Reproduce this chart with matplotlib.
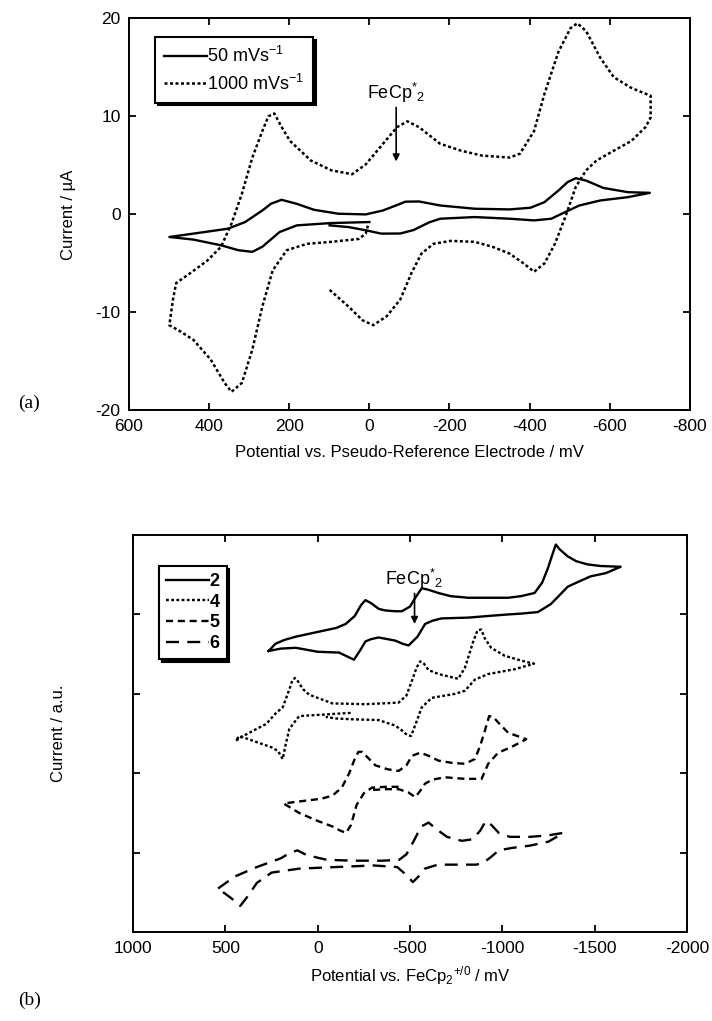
import numpy as np
import matplotlib
matplotlib.use("Agg")
import matplotlib.pyplot as plt

plt.rcParams['font.family'] = ['Liberation Sans', 'DejaVu Sans']
plt.rcParams['mathtext.fontset'] = 'custom'
plt.rcParams['mathtext.rm'] = 'Liberation Sans'
plt.rcParams['mathtext.it'] = 'Liberation Sans:italic'
plt.rcParams['mathtext.bf'] = 'Liberation Sans:bold'
plt.rcParams['axes.unicode_minus'] = False

# ---- panel (a): scan-rate comparison, potential (mV) / current (uA)
E_50 = [99, 52, 9, -30, -77, -110, -150, -177, -263, -350, -411, -454, -489, -524,
        -576, -645, -700, -645, -584, -541, -515, -495, -472, -437, -402, -350, -263,
        -177, -124, -90, -77, -34, 9, 77, 138, 181, 219, 245, 267, 310, 353, 439, 499,
        439, 370, 327, 292, 267, 224, 181, 95, 0]
I_50 = [-1.12, -1.29, -1.62, -1.96, -1.95, -1.6, -0.8, -0.44, -0.27, -0.44, -0.61, -0.44,
        0.24, 0.91, 1.42, 1.76, 2.2, 2.27, 2.7, 3.45, 3.69, 3.3, 2.44, 1.25, 0.68, 0.51,
        0.58, 0.91, 1.32, 1.3, 1.08, 0.4, 0.0, 0.07, 0.47, 1.08, 1.49, 1.1, 0.4, -0.78,
        -1.46, -1.96, -2.3, -2.57, -3.15, -3.65, -3.82, -3.3, -1.8, -1.12, -0.88, -0.78]

E_1000 = [99, 52, 17, -10, -43, -77, -105, -130, -160, -203, -263, -307, -350, -385, -411,
          -437, -463, -489, -515, -541, -567, -610, -654, -689, -702, -702, -654, -610,
          -576, -541, -519, -502, -472, -437, -411, -376, -350, -281, -229, -177, -124,
          -95, -69, -34, 9, 43, 95, 146, 198, 220, 237, 252, 267, 292, 318, 344, 370, 404,
          447, 482, 490, 499, 473, 439, 396, 361, 344, 318, 292, 267, 241, 206, 155, 95,
          26, 9, 2]
I_1000 = [-7.7, -9.4, -10.8, -11.3, -10.4, -8.7, -6.0, -4.0, -3.0, -2.7, -2.8, -3.3, -4.0,
          -5.0, -5.85, -5.0, -3.0, -0.27, 2.8, 4.5, 5.5, 6.5, 7.5, 8.9, 9.9, 12.1, 12.9,
          14.0, 16.0, 18.7, 19.5, 19.0, 16.6, 12.3, 8.5, 6.2, 5.8, 6.0, 6.5, 7.2, 8.9, 9.5,
          8.9, 7.2, 5.1, 4.1, 4.5, 5.5, 7.5, 9.0, 10.3, 10.0, 8.5, 5.8, 2.1, -0.95, -3.3,
          -4.7, -6.0, -7.0, -8.7, -11.3, -11.9, -12.8, -14.8, -17.2, -18.1, -17.2, -13.8,
          -9.4, -5.7, -3.65, -3.0, -2.8, -2.5, -1.96, -0.9]

# ---- panel (b): compounds 2, 4, 5, 6 (offset, arbitrary units)
E2 = [266, 230, 180, 119, 0, -100, -151, -200, -235, -258, -290, -330, -366, -420, -455,
      -500, -528, -563, -600, -653, -720, -815, -950, -1031, -1100, -1174, -1215, -1246,
      -1270, -1289, -1310, -1354, -1400, -1461, -1530, -1640, -1560, -1478, -1420, -1354,
      -1300, -1262, -1192, -1100, -1031, -920, -815, -670, -620, -581, -540, -492, -460,
      -420, -330, -290, -258, -230, -196, -160, -115, 0, 119, 200, 266]
I2 = [3.54, 3.63, 3.68, 3.72, 3.78, 3.83, 3.88, 3.98, 4.12, 4.18, 4.14, 4.07, 4.05, 4.04,
      4.04, 4.10, 4.21, 4.33, 4.31, 4.27, 4.23, 4.21, 4.21, 4.21, 4.23, 4.27, 4.40, 4.58,
      4.75, 4.88, 4.82, 4.73, 4.67, 4.63, 4.61, 4.60, 4.52, 4.48, 4.42, 4.35, 4.22, 4.13,
      4.03, 4.01, 4.00, 3.98, 3.96, 3.95, 3.92, 3.88, 3.72, 3.61, 3.63, 3.67, 3.71, 3.69,
      3.66, 3.55, 3.43, 3.47, 3.52, 3.53, 3.58, 3.57, 3.54]

E4 = [-178, -100, -40, 40, 101, 154, 175, 190, 215, 253, 340, 424, 445, 380, 280, 230, 190,
      155, 138, 124, 108, 80, 47, -79, -258, -438, -480, -509, -535, -555, -575, -600,
      -653, -761, -797, -842, -865, -885, -904, -939, -1012, -1100, -1171, -1066, -923,
      -851, -797, -743, -617, -563, -530, -505, -485, -450, -420, -330, -187, -100, -43]
I4 = [2.76, 2.75, 2.74, 2.73, 2.72, 2.56, 2.35, 2.18, 2.28, 2.33, 2.40, 2.47, 2.41, 2.50,
      2.62, 2.75, 2.83, 3.05, 3.17, 3.20, 3.16, 3.06, 2.99, 2.88, 2.87, 2.89, 2.98, 3.16,
      3.33, 3.41, 3.38, 3.30, 3.25, 3.19, 3.33, 3.66, 3.80, 3.81, 3.70, 3.58, 3.48, 3.42,
      3.38, 3.31, 3.25, 3.18, 3.04, 3.00, 2.95, 2.83, 2.62, 2.47, 2.48, 2.55, 2.60, 2.67,
      2.68, 2.69, 2.71]

E5 = [-438, -370, -294, -250, -210, -180, -153, -120, -80, 0, 100, 185, 120, 50, -20, -80,
      -130, -170, -200, -220, -240, -270, -312, -380, -438, -480, -510, -555, -600, -653,
      -730, -797, -851, -880, -904, -928, -950, -977, -1031, -1080, -1129, -1048, -977,
      -923, -887, -797, -689, -620, -581, -555, -528, -490, -438, -370, -294]
I5 = [1.83, 1.83, 1.82, 1.75, 1.60, 1.35, 1.25, 1.28, 1.33, 1.40, 1.50, 1.62, 1.64, 1.66,
      1.68, 1.72, 1.82, 2.00, 2.18, 2.27, 2.27, 2.20, 2.10, 2.05, 2.03, 2.10, 2.22, 2.26,
      2.22, 2.16, 2.13, 2.12, 2.18, 2.35, 2.53, 2.72, 2.71, 2.64, 2.51, 2.47, 2.43, 2.33,
      2.26, 2.12, 1.93, 1.93, 1.95, 1.92, 1.87, 1.78, 1.70, 1.76, 1.80, 1.80, 1.79]

E6 = [540, 450, 330, 200, 150, 110, 60, -50, -200, -350, -440, -480, -520, -560, -600, -640,
      -700, -780, -840, -880, -910, -940, -980, -1040, -1150, -1250, -1330, -1250, -1150,
      -1050, -980, -940, -900, -860, -780, -650, -580, -545, -515, -480, -430, -300, -100,
      100, 250, 330, 380, 420, 470, 540]
I6 = [0.55, 0.70, 0.82, 0.93, 1.00, 1.03, 0.97, 0.91, 0.90, 0.90, 0.91, 0.98, 1.15, 1.33,
      1.38, 1.30, 1.20, 1.15, 1.17, 1.28, 1.40, 1.35, 1.25, 1.20, 1.20, 1.22, 1.25, 1.14,
      1.09, 1.06, 1.03, 0.95, 0.88, 0.85, 0.85, 0.85, 0.80, 0.70, 0.63, 0.72, 0.82, 0.84,
      0.82, 0.80, 0.75, 0.62, 0.45, 0.33, 0.43, 0.55]

fig = plt.figure(figsize=(7.12, 10.21), dpi=100)
ax1 = fig.add_axes([0.181, 0.598, 0.788, 0.384])
ax2 = fig.add_axes([0.187, 0.087, 0.778, 0.389])

dot = (0, (1.2, 1.0))
shadow = {'color': 'black', 'alpha': 1}

for ax in (ax1, ax2):
    for sp in ax.spines.values():
        sp.set_linewidth(1.4)
    ax.tick_params(direction='in', length=5, width=1.3, top=True, right=True,
                   labelsize=12.5, pad=6)

# panel (a)
ax1.plot(E_50, I_50, color='black', lw=1.7, label='50 mVs$^{-1}$')
ax1.plot(E_1000, I_1000, color='black', lw=1.8, ls=dot, label='1000 mVs$^{-1}$')
ax1.set_xlim(600, -800)
ax1.set_ylim(-20, 20)
ax1.set_xticks([600, 400, 200, 0, -200, -400, -600, -800])
ax1.set_yticks([-20, -10, 0, 10, 20])
ax1.set_xlabel('Potential vs. Pseudo-Reference Electrode / mV', fontsize=12, labelpad=8)
ax1.set_ylabel('Current / µA', fontsize=12, labelpad=14)
leg1 = ax1.legend(loc='upper left', bbox_to_anchor=(0.03, 0.975), fontsize=13,
                  frameon=True, fancybox=False, shadow=shadow, handlelength=2.4,
                  handletextpad=0.0, borderpad=0.5, labelspacing=0.4)
leg1.get_frame().set_edgecolor('black')
leg1.get_frame().set_linewidth(1.5)
ax1.annotate('FeCp$^{*}{}_{2}$', xy=(-67, 5.4), xytext=(-67, 11.2),
             ha='center', va='bottom', fontsize=13,
             arrowprops=dict(arrowstyle='-|>', color='black', lw=1.2,
                             mutation_scale=10, shrinkA=0, shrinkB=0))
fig.text(0.025, 0.600, '(a)', family='Liberation Serif', fontsize=14)

# panel (b)
ax2.plot(E2, I2, color='black', lw=1.7, label='2')
ax2.plot(E4, I4, color='black', lw=1.7, ls=dot, label='4')
ax2.plot(E5, I5, color='black', lw=1.7, ls=(0, (3, 2)), label='5')
ax2.plot(E6, I6, color='black', lw=1.7, ls=(0, (5.5, 3.5)), label='6')
ax2.set_xlim(1000, -2000)
ax2.set_ylim(0, 5)
ax2.set_xticks([1000, 500, 0, -500, -1000, -1500, -2000])
ax2.set_yticks([1, 2, 3, 4])
ax2.set_yticklabels([])
ax2.set_xlabel('Potential vs. FeCp$_2$$^{+/0}$ / mV', fontsize=12, labelpad=6)
ax2.set_ylabel('Current / a.u.', fontsize=12, labelpad=42)
leg2 = ax2.legend(loc='upper left', bbox_to_anchor=(0.03, 0.945), prop={'weight': 'bold', 'size': 13},
                  frameon=True, fancybox=False, shadow=shadow, handlelength=2.4,
                  handletextpad=0.0, borderpad=0.4, labelspacing=0.2)
leg2.get_frame().set_edgecolor('black')
leg2.get_frame().set_linewidth(1.5)
ax2.annotate('FeCp$^{*}{}_{2}$', xy=(-524, 3.88), xytext=(-524, 4.3),
             ha='center', va='bottom', fontsize=13,
             arrowprops=dict(arrowstyle='-|>', color='black', lw=1.2,
                             mutation_scale=10, shrinkA=0, shrinkB=0))
fig.text(0.025, 0.016, '(b)', family='Liberation Serif', fontsize=14)

fig.savefig('out.png', dpi=100)
